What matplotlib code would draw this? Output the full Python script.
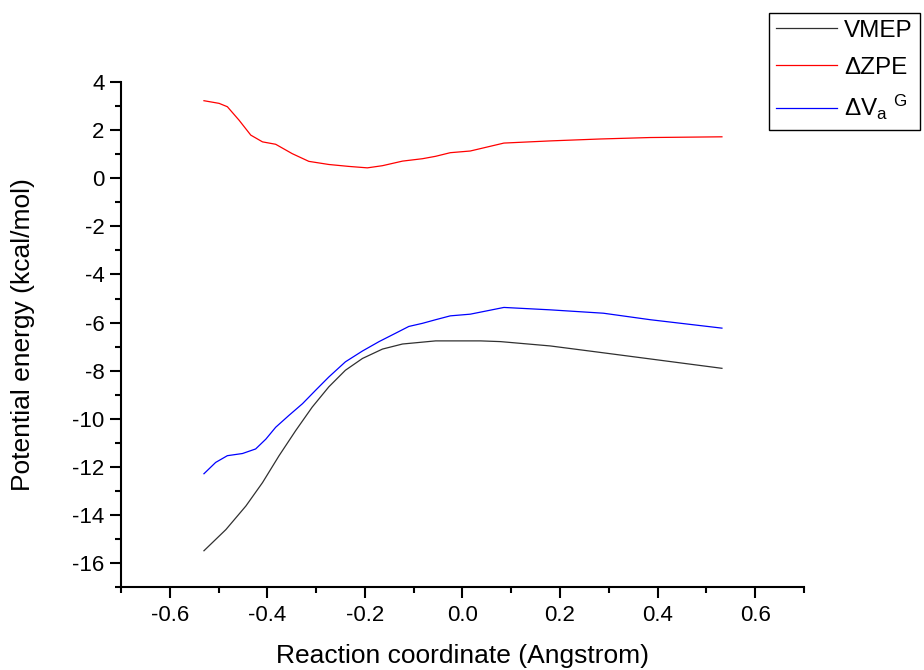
import matplotlib

matplotlib.use("Agg")

import matplotlib.pyplot as plt  # noqa: E402
from matplotlib.ticker import MultipleLocator  # noqa: E402

plt.rcParams["font.family"] = ["Liberation Sans", "DejaVu Sans"]
plt.rcParams["mathtext.fontset"] = "custom"
plt.rcParams["mathtext.rm"] = "Liberation Sans"
plt.rcParams["mathtext.it"] = "Liberation Sans:italic"

# VMEP (black)
vmep_x = [-0.530, -0.485, -0.444, -0.410, -0.376, -0.342, -0.308, -0.274, -0.240,
          -0.205, -0.164, -0.123, -0.055, 0.037, 0.078, 0.180, 0.283, 0.385, 0.532]
vmep_y = [-15.48, -14.60, -13.62, -12.65, -11.53, -10.49, -9.51, -8.67, -7.98,
          -7.49, -7.10, -6.89, -6.76, -6.76, -6.79, -6.97, -7.24, -7.51, -7.90]

# Delta ZPE (red)
zpe_x = [-0.530, -0.499, -0.482, -0.458, -0.434, -0.410, -0.383, -0.349, -0.315,
         -0.274, -0.233, -0.195, -0.164, -0.123, -0.082, -0.055, -0.025, 0.016,
         0.085, 0.180, 0.283, 0.385, 0.532]
zpe_y = [3.22, 3.11, 2.97, 2.41, 1.79, 1.51, 1.41, 1.02, 0.70,
         0.57, 0.49, 0.43, 0.52, 0.71, 0.81, 0.91, 1.06, 1.13,
         1.46, 1.55, 1.63, 1.69, 1.72]

# Delta V_a^G (blue)
vag_x = [-0.530, -0.506, -0.482, -0.451, -0.424, -0.403, -0.383, -0.356, -0.328,
         -0.301, -0.274, -0.240, -0.205, -0.171, -0.137, -0.110, -0.082, -0.055,
         -0.025, 0.016, 0.085, 0.180, 0.289, 0.385, 0.532]
vag_y = [-12.28, -11.81, -11.53, -11.44, -11.25, -10.84, -10.35, -9.86, -9.37,
         -8.81, -8.26, -7.63, -7.18, -6.79, -6.44, -6.16, -6.03, -5.88,
         -5.72, -5.65, -5.37, -5.47, -5.61, -5.88, -6.23]

fig = plt.figure(figsize=(9.24, 6.70), dpi=100)
ax = fig.add_axes([0.131, 0.1234, 0.739, 0.7543])

ax.plot(vmep_x, vmep_y, color="#303030", lw=0.9, label="VMEP")
ax.plot(zpe_x, zpe_y, color="#ff0000", lw=0.9, label="ΔZPE")
ax.plot(vag_x, vag_y, color="#0000ff", lw=0.9,
        label=r"ΔV$_\mathregular{a}$ $^\mathregular{G}$")

ax.set_xlim(-0.7, 0.7)
ax.set_ylim(-17, 4)
ax.xaxis.set_minor_locator(MultipleLocator(0.1))
ax.yaxis.set_minor_locator(MultipleLocator(1))
ax.set_xticks([-0.6, -0.4, -0.2, 0.0, 0.2, 0.4, 0.6])
ax.set_xticklabels(["-0.6", "-0.4", "-0.2", "0.0", "0.2", "0.4", "0.6"])
ax.set_yticks(list(range(-16, 5, 2)))
ax.set_yticklabels([str(v) for v in range(-16, 5, 2)])

for side in ("top", "right"):
    ax.spines[side].set_visible(False)
for side in ("left", "bottom"):
    ax.spines[side].set_linewidth(1.5)

ax.tick_params(which="major", direction="out", length=8, width=1.5, labelsize=16)
ax.tick_params(which="minor", direction="out", length=4, width=1.5)
ax.tick_params(axis="x", which="major", pad=5)
ax.tick_params(axis="y", which="major", pad=4)

ax.set_xlabel("Reaction coordinate (Angstrom)", fontsize=19)
ax.set_ylabel("Potential energy (kcal/mol)", fontsize=19)
ax.xaxis.set_label_coords(0.5, -0.112)
ax.yaxis.set_label_coords(-0.126, 0.5)

# legend sits outside the axes, top right, frame runs off the figure edge
leg = fig.legend(loc="upper left", bbox_to_anchor=(769 / 924, 1 - 12.7 / 670),
                 fontsize=17.5, frameon=True, fancybox=False, framealpha=1,
                 edgecolor="black", handlelength=2.5, handletextpad=0.3,
                 borderpad=0.3, labelspacing=0.6, borderaxespad=0)
leg.get_frame().set_linewidth(1.0)

fig.savefig("out.png", dpi=100)
